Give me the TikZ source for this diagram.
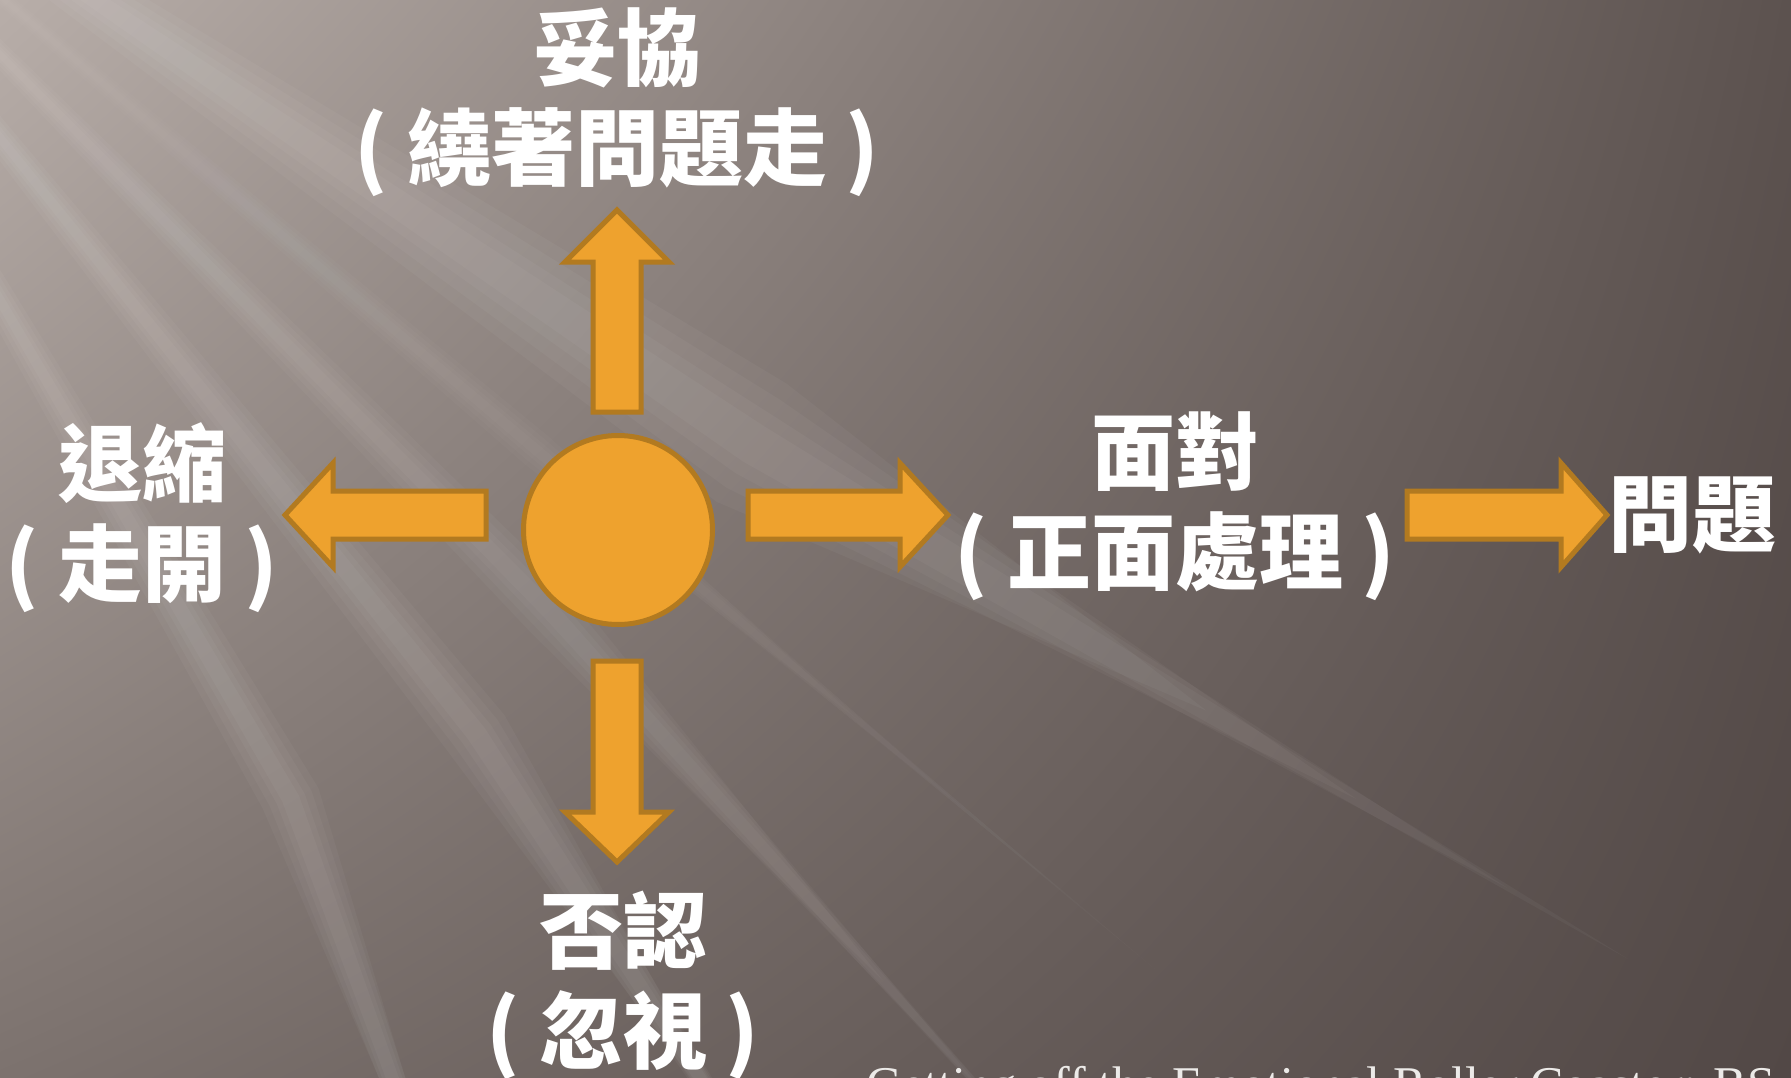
\documentclass[tikz,border=0pt]{standalone}
\usepackage{fontspec}
\usetikzlibrary{shadings}
\setmainfont{Liberation Serif}
\newfontfamily\cjk{Noto Sans CJK TC}
\definecolor{bgtl}{RGB}{184,174,169}
\definecolor{bgtr}{RGB}{92,82,79}
\definecolor{bgbl}{RGB}{124,114,110}
\definecolor{bgbr}{RGB}{82,72,70}
\definecolor{orfill}{RGB}{238,162,46}
\definecolor{orline}{RGB}{178,122,32}
\definecolor{txt}{RGB}{255,255,255}
\definecolor{cite}{RGB}{236,234,232}
\tikzset{
  blockarrow/.style={fill=orfill, draw=orline, line width=5pt, line join=miter},
  lbl/.style={text=txt, font=\cjk\bfseries\fontsize{84}{100}\selectfont, align=center, inner sep=0pt},
  ray/.style={fill=white, opacity=#1},
}
\begin{document}
\begin{tikzpicture}[x=1pt,y=-1pt]
\clip (0,0) rectangle (1791,1078);
\useasboundingbox (0,0) rectangle (1791,1078);
% background
\shade[upper left=bgtl, upper right=bgtr, lower left=bgbl, lower right=bgbr] (0,0) rectangle (1791,1078);
\coordinate (O) at (-350,-300);
\foreach \a/\w/\L/\o in {30.5/4.5/1750/0.035, 40/1.5/1400/0.02, 48/2/1650/0.03, 57/2.2/1750/0.035, 70/2/1700/0.035}{
  \foreach \f in {1, 0.75, 0.5, 0.3}{
    \fill[ray=\o] (O) -- (\a-\w*\f:\L*0.5) -- (\a:{\L*(1.2-0.4*\f)}) -- (\a+\w*\f:\L*0.5) -- cycle;
  }
}
% centre circle
\node[circle, fill=orfill, draw=orline, line width=5pt, minimum size=189pt, inner sep=0pt] (c) at (618,530) {};
% arrows
\draw[blockarrow] (593,412) -- (593,262) -- (565,262) -- (617,210) -- (669,262) -- (641,262) -- (641,412) -- cycle;
\draw[blockarrow] (593,661) -- (593,812) -- (565,812) -- (617,862) -- (669,812) -- (641,812) -- (641,661) -- cycle;
\draw[blockarrow] (486,491) -- (333,491) -- (333,463) -- (285,515) -- (333,567) -- (333,539) -- (486,539) -- cycle;
\draw[blockarrow] (748,491) -- (900,491) -- (900,463) -- (948,515) -- (900,567) -- (900,539) -- (748,539) -- cycle;
\draw[blockarrow] (1407,491) -- (1561,491) -- (1561,463) -- (1607,515) -- (1561,567) -- (1561,539) -- (1407,539) -- cycle;
% labels
\node[lbl] (up) at (617,102) {妥協\\(\hspace{0.22em}繞著問題走\hspace{0.22em})};
\node[lbl] (left) at (142,518) {退縮\\(\hspace{0.22em}走開\hspace{0.22em})};
\node[lbl] (right) at (1175,506) {面對\\(\hspace{0.22em}正面處理\hspace{0.22em})};
\node[lbl] (down) at (623,985) {否認\\(\hspace{0.22em}忽視\hspace{0.22em})};
\node[lbl, anchor=west] (prob) at (1608,515) {問題};
\node[anchor=base west, inner sep=0pt, text=cite, font=\fontsize{50}{60}\selectfont] (src) at (866,1101) {Getting off the Emotional Roller Coaster: BS};
\end{tikzpicture}
\end{document}
